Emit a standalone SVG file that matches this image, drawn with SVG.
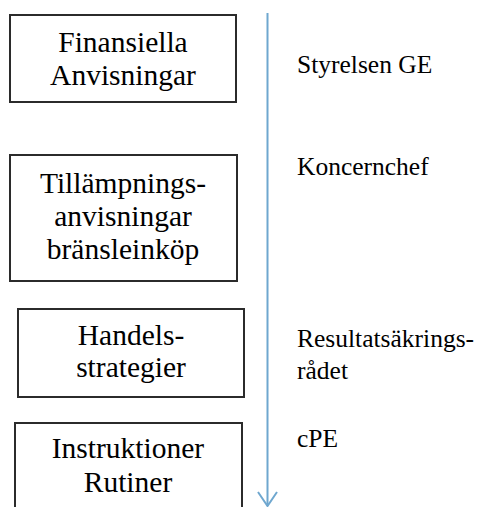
<svg xmlns="http://www.w3.org/2000/svg" width="489" height="507" viewBox="0 0 489 507">
<style>
.box{fill:#fff;stroke:#2b2b2b;stroke-width:2}
.t{font-family:"Liberation Serif","DejaVu Serif",serif;font-size:29.5px;fill:#000;text-anchor:middle}
.l{font-family:"Liberation Serif","DejaVu Serif",serif;font-size:25.5px;fill:#000}
.ax{stroke:#6fa7cf;stroke-width:2;fill:none}
</style>
<rect width="489" height="507" fill="#fff"/>
<g id="connectors">
<line class="ax" x1="267.5" y1="13" x2="267.5" y2="506"/>
<polyline class="ax" points="258,492 267.5,506 277,492"/>
</g>
<g id="n1">
<rect class="box" x="10" y="15" width="226" height="87"/>
<text class="t" x="123" y="52">Finansiella</text>
<text class="t" x="123" y="85">Anvisningar</text>
</g>
<g id="n2">
<rect class="box" x="10" y="155" width="227" height="126"/>
<text class="t" x="123" y="193">Tillämpnings-</text>
<text class="t" x="123" y="226">anvisningar</text>
<text class="t" x="123" y="259">bränsleinköp</text>
</g>
<g id="n3">
<rect class="box" x="18" y="309" width="226" height="88"/>
<text class="t" x="131" y="345">Handels-</text>
<text class="t" x="131" y="377">strategier</text>
</g>
<g id="n4">
<rect class="box" x="15" y="423" width="227" height="100"/>
<text class="t" x="128" y="458">Instruktioner</text>
<text class="t" x="128" y="492">Rutiner</text>
</g>
<g id="labels">
<text class="l" x="297" y="73">Styrelsen GE</text>
<text class="l" x="297" y="175">Koncernchef</text>
<text class="l" x="297" y="347">Resultatsäkrings-</text>
<text class="l" x="297" y="379">rådet</text>
<text class="l" x="297" y="447">cPE</text>
</g>
</svg>
